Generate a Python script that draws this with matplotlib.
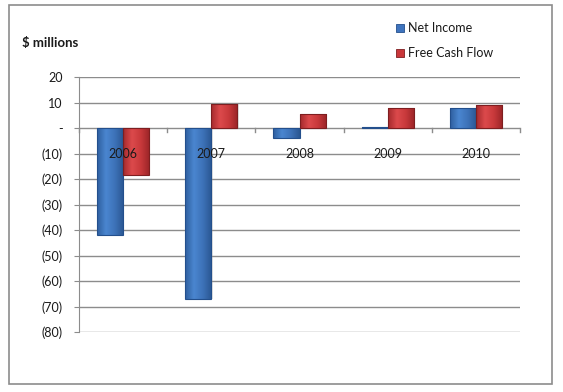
import numpy as np
import matplotlib.pyplot as plt
from matplotlib.patches import Rectangle
from matplotlib.colors import LinearSegmentedColormap

years = ["2006", "2007", "2008", "2009", "2010"]
net_income = [-42, -67, -4, 0.3, 7.7]
free_cash_flow = [-18.5, 9.3, 5.4, 7.7, 9.0]
y_ticks = [20, 10, 0, -10, -20, -30, -40, -50, -60, -70, -80]

BLUE = "#3F74BE"
BLUE_EDGE = "#234F8C"
RED = "#C9373A"
RED_EDGE = "#7E1E20"
GRID = "#8C8C8C"
TXT = "#1A1A1A"

plt.rcParams["font.family"] = ["Lato", "DejaVu Sans"]

fig = plt.figure(figsize=(5.63, 3.92), dpi=100)
fig.patch.set_facecolor("white")
fig.patches.append(Rectangle((9 / 563, 1 - 384 / 392), 543 / 563, 379 / 392,
                             transform=fig.transFigure, fill=False,
                             edgecolor=GRID, lw=1.2))

ax = fig.add_axes([79 / 563, 1 - 332 / 392, 441 / 563, 255 / 392])
ax.set_xlim(0, len(years))
ax.set_ylim(-80, 20)

blue_cm = LinearSegmentedColormap.from_list("b", ["#2F5F9F", "#4A86D0", "#3D72B8", "#2A5792"])
red_cm = LinearSegmentedColormap.from_list("r", ["#A52A2D", "#DC4A4C", "#C8393B", "#9A2427"])
grad = np.linspace(0, 1, 64).reshape(1, -1)


def bevel_bar(xc, v, w, cmap, edge):
    ax.bar(xc + 0.015, v, w, color="#999999", alpha=0.3, zorder=2, lw=0)
    bar = ax.bar(xc, v, w, color="none", edgecolor=edge, lw=0.8, zorder=4)[0]
    lo, hi = min(0, v), max(0, v)
    im = ax.imshow(grad, cmap=cmap, aspect="auto", zorder=3,
                   extent=[xc - w / 2, xc + w / 2, lo, hi], interpolation="bicubic")
    im.set_clip_path(bar)


x = np.arange(len(years)) + 0.5
w = 0.295
for xi, v in zip(x - w / 2, net_income):
    bevel_bar(xi, v, w, blue_cm, BLUE_EDGE)
for xi, v in zip(x + w / 2, free_cash_flow):
    bevel_bar(xi, v, w, red_cm, RED_EDGE)
ax.set_xlim(0, len(years))
ax.set_ylim(-80, 20)

for t in y_ticks:
    ax.axhline(t, color=GRID, lw=1, zorder=1)
for b in range(len(years) + 1):
    ax.plot([b, b], [0, -1.6], color=GRID, lw=1, zorder=1, clip_on=False)
for xi, lab in zip(x, years):
    ax.text(xi, -10, lab, ha="center", va="center", fontsize=9,
            color=TXT, zorder=5)


def fmt(v):
    if v == 0:
        return "-"
    return f"({-v})" if v < 0 else str(v)


ax.set_yticks(y_ticks)
ax.set_yticklabels([fmt(v) for v in y_ticks], fontsize=9, color=TXT)
ax.set_xticks([])
ax.tick_params(axis="y", length=3.6, color=GRID, pad=8)
for s in ["top", "right", "bottom"]:
    ax.spines[s].set_visible(False)
ax.spines["left"].set_color(GRID)

fig.text(22 / 563, 1 - 43 / 392, "$ millions", fontsize=9.5,
         fontweight="bold", color=TXT, va="center")

for yy, col, ec, lab in [(28, BLUE, BLUE_EDGE, "Net Income"),
                         (53, RED, RED_EDGE, "Free Cash Flow")]:
    fig.patches.append(Rectangle((396 / 563, 1 - (yy + 4) / 392), 8 / 563, 8 / 392,
                                 transform=fig.transFigure, facecolor=col,
                                 edgecolor=ec, lw=0.6))
    fig.text(408 / 563, 1 - yy / 392, lab, fontsize=9, color=TXT, va="center")

fig.savefig("out.png", dpi=100, facecolor="white")
